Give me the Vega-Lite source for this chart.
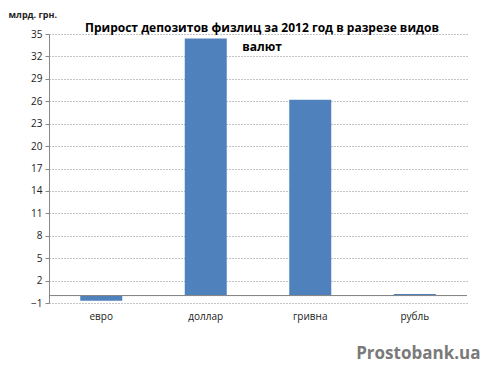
{
  "$schema": "https://vega.github.io/schema/vega-lite/v6.json",
  "width": 418,
  "height": 269,
  "autosize": {"type": "none"},
  "padding": {"left": 49, "top": 34, "right": 15, "bottom": 63},
  "background": "white",
  "title": {
    "text": ["Прирост депозитов физлиц за 2012  год в разрезе видов", "валют"],
    "font": "Open Sans",
    "fontSize": 12,
    "fontWeight": "bold",
    "color": "#000",
    "anchor": "middle",
    "frame": "group",
    "dx": 4,
    "offset": -44,
    "lineHeight": 19
  },
  "data": {
    "values": [
      {"currency": "евро", "value": -0.7},
      {"currency": "доллар", "value": 34.4},
      {"currency": "гривна", "value": 26.2},
      {"currency": "рубль", "value": 0.2}
    ]
  },
  "config": {
    "view": {"stroke": null},
    "axis": {"labelFont": "Open Sans", "titleFont": "Open Sans"},
    "axisY": {
      "titleAngle": 0,
      "titleAlign": "left",
      "titleBaseline": "middle",
      "titleX": -41,
      "titleY": -20,
      "titleFontSize": 9,
      "titleFontWeight": "bold",
      "titleColor": "#222",
      "labelOverlap": false,
      "labelFontSize": 10,
      "labelColor": "#222",
      "labelPadding": 3,
      "tickSize": 4,
      "tickColor": "#888",
      "domainColor": "#888",
      "grid": true,
      "gridColor": "#888",
      "gridDash": [1, 2],
      "gridWidth": 1
    }
  },
  "layer": [
    {
      "mark": {"type": "bar", "color": "#4F81BD", "width": 42},
      "encoding": {
        "x": {
          "field": "currency",
          "type": "nominal",
          "sort": null,
          "scale": {"paddingInner": 0, "paddingOuter": 0},
          "axis": {
            "title": "Prostobank.ua",
            "titleFont": "Open Sans",
            "titleFontSize": 17,
            "titleFontWeight": "bold",
            "titleColor": "#7a7a7a",
            "titleAnchor": "end",
            "titleAlign": "right",
            "titleBaseline": "alphabetic",
            "titleX": 431,
            "titleY": 55,
            "labelAngle": 0,
            "labelFontSize": 10,
            "labelColor": "#222",
            "labelPadding": 8,
            "ticks": false,
            "domain": false,
            "grid": false
          }
        },
        "y": {
          "field": "value",
          "type": "quantitative",
          "scale": {"domain": [-1, 35], "nice": false, "zero": false},
          "axis": {
            "title": "млрд. грн.",
            "values": [-1, 2, 5, 8, 11, 14, 17, 20, 23, 26, 29, 32, 35]
          }
        }
      }
    },
    {
      "mark": {"type": "rule", "color": "#888", "strokeWidth": 1},
      "encoding": {
        "y": {
          "datum": 0,
          "type": "quantitative",
          "axis": {
            "title": "млрд. грн.",
            "values": [-1, 2, 5, 8, 11, 14, 17, 20, 23, 26, 29, 32, 35]
          }
        }
      }
    }
  ]
}
